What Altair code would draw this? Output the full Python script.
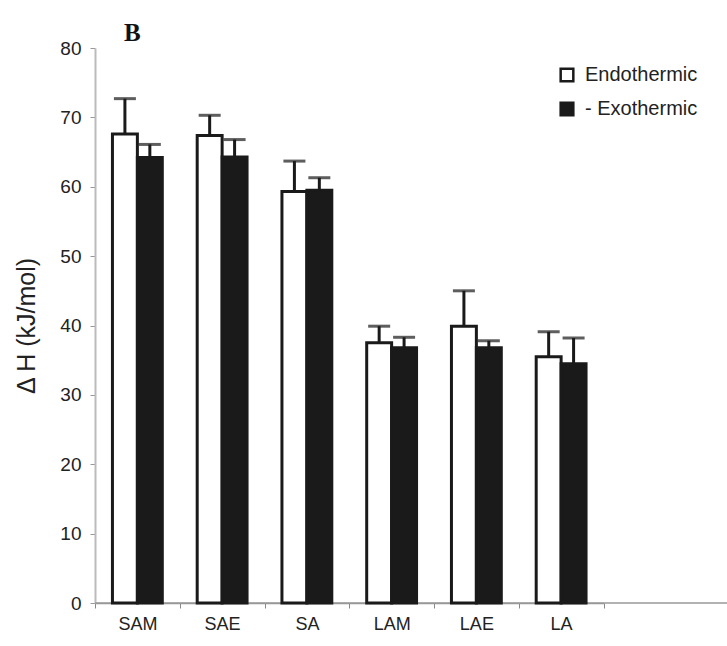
import altair as alt
import pandas as pd

categories = ["SAM", "SAE", "SA", "LAM", "LAE", "LA"]
series = ["Endothermic", "Exothermic"]
endo = [67.6, 67.4, 59.3, 37.5, 39.9, 35.5]
endo_err = [5.1, 2.9, 4.4, 2.4, 5.1, 3.6]
exo = [64.2, 64.3, 59.5, 36.8, 36.8, 34.5]
exo_err = [1.9, 2.5, 1.8, 1.5, 1.0, 3.7]
y_ticks = [0, 10, 20, 30, 40, 50, 60, 70, 80]

rows = []
for i, c in enumerate(categories):
    rows.append({"cat": c, "type": series[0], "val": endo[i], "top": endo[i] + endo_err[i]})
    rows.append({"cat": c, "type": series[1], "val": exo[i], "top": exo[i] + exo_err[i]})
df = pd.DataFrame(rows)

W, H = 632, 555
STEP = 84.75
FONT = "Liberation Sans"
INK = "#1a1a1a"

x_enc = alt.X(
    "cat:N",
    sort=categories,
    scale=alt.Scale(range=[0, STEP * len(categories)], paddingInner=0, paddingOuter=0),
    axis=alt.Axis(
        title=None, labelAngle=0, labelFont=FONT, labelFontSize=18, labelColor="#222",
        labelPadding=7, tickBand="extent", tickSize=5, tickColor="#888",
        domainColor="#999", domainWidth=1.5,
    ),
)
xoff = alt.XOffset("type:N", sort=series,
                   scale=alt.Scale(domain=series, paddingInner=0, paddingOuter=0.7))
y_scale = alt.Scale(domain=[0, 80], nice=False)

bars = alt.Chart(df).mark_bar(stroke=INK, strokeWidth=3).encode(
    x=x_enc,
    xOffset=xoff,
    y=alt.Y(
        "val:Q", scale=y_scale,
        axis=alt.Axis(
            title="Δ H (kJ/mol)", values=y_ticks, titleFont=FONT, titleFontSize=25,
            titleFontWeight="normal", titleColor="#222", titlePadding=20,
            labelFont=FONT, labelFontSize=19, labelColor="#222", labelPadding=9,
            tickSize=5, tickColor="#999", domainColor="#bbb", domainWidth=2, grid=False,
        ),
    ),
    fill=alt.Fill(
        "type:N",
        scale=alt.Scale(domain=series, range=["white", INK]),
        legend=alt.Legend(
            title=None, orient="none", legendX=462, legendY=17,
            symbolType="square", symbolSize=160, symbolStrokeColor=INK,
            symbolStrokeWidth=2.5, labelFont=FONT, labelFontSize=20, labelColor="#222",
            rowPadding=10, labelOffset=8,
            labelExpr="datum.label == 'Exothermic' ? '- Exothermic' : datum.label",
        ),
    ),
)

whisk = alt.Chart(df).mark_rule(color=INK, strokeWidth=3).encode(
    x=alt.X("cat:N", sort=categories), xOffset=xoff, y=alt.Y("val:Q", scale=y_scale), y2="top:Q"
)
caps = alt.Chart(df).mark_tick(color=INK, thickness=3, size=22).encode(
    x=alt.X("cat:N", sort=categories), xOffset=xoff, y=alt.Y("top:Q", scale=y_scale)
)
base_ext = alt.Chart(pd.DataFrame({"z": [0]})).mark_rule(color="#999", strokeWidth=1.5).encode(
    y=alt.Y("z:Q", scale=y_scale), x=alt.value(0), x2=alt.value(W)
)

chart = alt.layer(base_ext, bars, whisk, caps).properties(
    width=W, height=H,
    background="white",
    title=alt.TitleParams("B", anchor="start", frame="group", dx=29, offset=-7,
                          font="Liberation Serif", fontSize=25, fontWeight="bold",
                          color="#111"),
    autosize=alt.AutoSizeParams(type="none"),
    padding={"left": 95, "top": 48, "right": 0, "bottom": 43},
).configure_view(stroke=None)

chart.save("out.html", embed_options={"renderer": "svg", "actions": False})
